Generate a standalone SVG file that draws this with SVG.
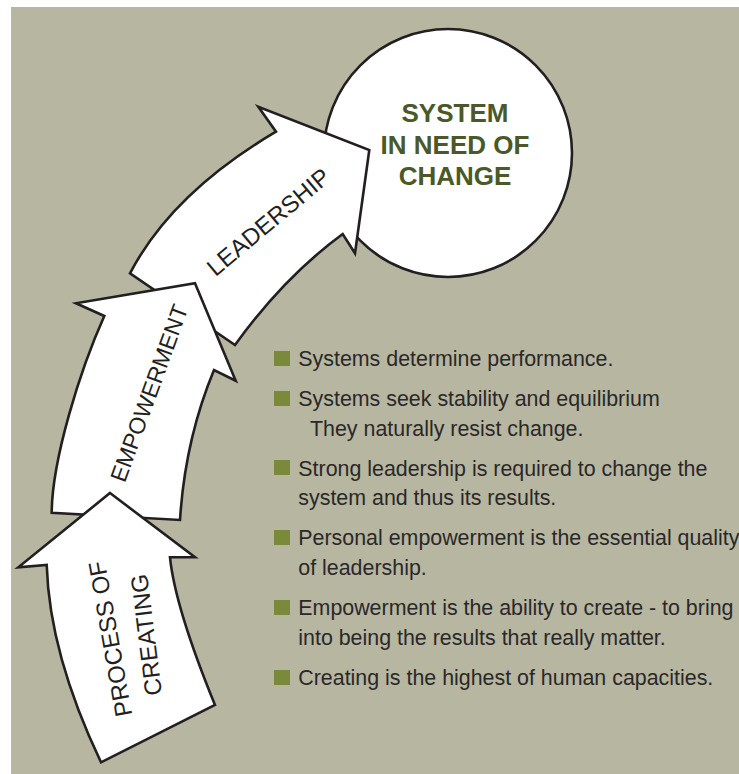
<svg xmlns="http://www.w3.org/2000/svg" width="739" height="774" viewBox="0 0 739 774">
<style>
.arrow{fill:#ffffff;stroke:#231f20;stroke-width:2.6;stroke-linejoin:miter}
.at{font-family:"Liberation Sans",Arial,sans-serif;font-size:24px;fill:#231f20;text-anchor:middle}
.ct{font-family:"Liberation Sans",Arial,sans-serif;font-size:26px;font-weight:bold;fill:#4b5827;text-anchor:middle}
.bt{font-family:"Liberation Sans",Arial,sans-serif;font-size:21.4px;fill:#2a2828}
.sq{fill:#7b8a3a}
</style>
<rect x="11" y="7" width="728" height="767" fill="#b7b6a1"/>
<g id="node-circle">
<ellipse cx="448" cy="153" rx="124" ry="124" fill="#ffffff" stroke="#231f20" stroke-width="2.6"/>
<text class="ct" x="455" y="122">SYSTEM</text>
<text class="ct" x="455" y="153.5">IN NEED OF</text>
<text class="ct" x="455" y="185">CHANGE</text>
</g>
<g id="node-leadership">
<path class="arrow" d="M369.3 150 L355 253.3 L342.7 234 Q284 277 235 345 L130 273.3 Q172 193 276 131.7 L258.3 106.7 Z"/>
<text class="at" transform="translate(268.3 221.7) rotate(-40)" x="0" y="8.6">LEADERSHIP</text>
</g>
<g id="node-empowerment">
<path class="arrow" d="M195 283.3 L235.7 380.7 L214 370 Q185 440 180 520 L51.7 512.7 C52 460 80 370 104.3 316 L76 303.3 Z"/>
<text class="at" transform="translate(149 393) rotate(-70)" x="0" y="8.2" style="font-size:23px">EMPOWERMENT</text>
</g>
<g id="node-process">
<path class="arrow" d="M110 493 L195 557.3 L170 557.3 Q175 607 215 705 L101 762.3 Q49.4 654 46.7 565 L18.3 567.3 Z"/>
<text class="at" transform="translate(110 639) rotate(-100)" x="0" y="8.6">PROCESS OF</text>
<text class="at" transform="translate(146 635) rotate(-97)" x="0" y="8.6">CREATING</text>
</g>
<g id="connectors"></g>
<g id="bullets">
<rect class="sq" x="274" y="351" width="16" height="15"/>
<text class="bt" x="298.3" y="365.7">Systems determine performance.</text>
<rect class="sq" x="274" y="391" width="16" height="15"/>
<text class="bt" x="298.3" y="406">Systems seek stability and equilibrium</text>
<text class="bt" x="310" y="436">They naturally resist change.</text>
<rect class="sq" x="274" y="460" width="16" height="15"/>
<text class="bt" x="298.3" y="475.7">Strong leadership is required to change the</text>
<text class="bt" x="298.3" y="505">system and thus its results.</text>
<rect class="sq" x="274" y="530" width="16" height="15"/>
<text class="bt" x="298.3" y="545">Personal empowerment is the essential quality</text>
<text class="bt" x="298.3" y="575">of leadership.</text>
<rect class="sq" x="274" y="600" width="16" height="15"/>
<text class="bt" x="298.3" y="615">Empowerment is the ability to create - to bring</text>
<text class="bt" x="298.3" y="645">into being the results that really matter.</text>
<rect class="sq" x="274" y="670" width="16" height="15"/>
<text class="bt" x="298.3" y="685">Creating is the highest of human capacities.</text>
</g>
</svg>
